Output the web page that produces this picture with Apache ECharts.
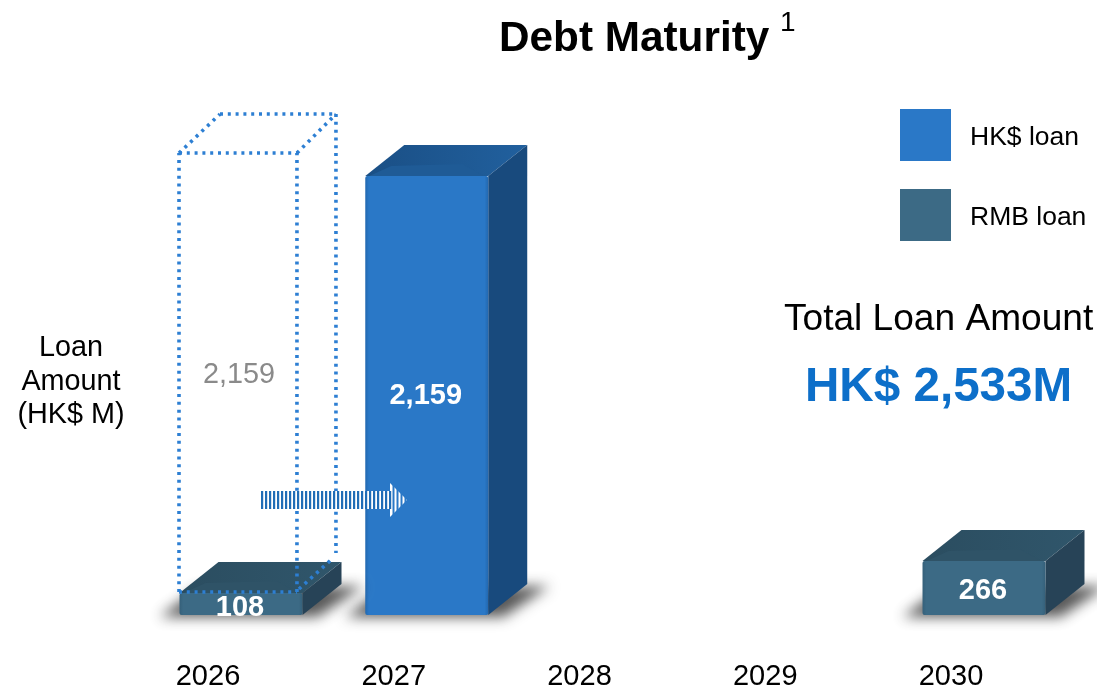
<!DOCTYPE html>
<html>
<head>
<meta charset="utf-8">
<style>html,body{margin:0;padding:0;background:#fff;overflow:hidden}#chart{width:1097px;height:687px}</style>
<script src="https://cdn.jsdelivr.net/npm/echarts@6/dist/echarts.min.js"></script>
</head>
<body>
<div id="chart"></div>
<script>
// Loan balances by maturity year, HK$ million
var years = ['2026', '2027', '2028', '2029', '2030'];
var hkLoan = [null, 2159, null, null, null];
var rmbLoan = [108, null, null, null, 266];
var extendedFrom = [2159, null, null, null, null];

var FONT = '"Liberation Sans", Arial, sans-serif';
var palette = {
  hk: { front: '#2a78c7', edge: '#2268b0', side: '#184a7d', topA: '#1a4f85', topB: '#21609e', topC: '#1f5b96' },
  rmb: { front: '#3c6a85', edge: '#35607a', side: '#274357', topA: '#2b4d60', topB: '#30566b', topC: '#2f5367' }
};

function rowsOf(values) {
  return values.map(function (v, i) { return [i, v]; }).filter(function (r) { return r[1] !== null; });
}

// Pseudo-3D block: soft ground shadow, top, side and front faces, then the value on the front
function blockRenderer(colors) {
  return function (params, api) {
    var i = api.value(0), value = api.value(1);
    var foot = api.coord([i, 0]);
    var head = api.coord([i, value]);
    var w = api.size([1, 0])[0] * 0.662;
    var L = foot[0] + 33 - w / 2, R = L + w, B = foot[1], T = head[1];
    var dx = 39, dy = 31;
    var away = 3000; // the caster sits off-canvas so only its blur lands on the page
    var grad = function (x, y, x2, y2, stops) {
      return { type: 'linear', x: x, y: y, x2: x2, y2: y2, colorStops: stops };
    };
    var caster = [[L - 20, B + 2], [L + 18, B - 26], [R + dx + 22, B - 29], [R + 15, B + 2]].map(function (p) {
      return [p[0] - away, p[1]];
    });
    var labelY = (T + B) / 2 + (B - T < 100 ? 3.5 : 0);
    return {
      type: 'group',
      children: [
        { type: 'polygon', silent: true,
          shape: { points: caster },
          style: { fill: '#000', shadowBlur: 13, shadowOffsetX: away, shadowColor: 'rgba(70,70,70,0.9)' } },
        { type: 'polygon',
          shape: { points: [[L, T], [L + dx, T - dy], [R + dx, T - dy], [R, T]] },
          style: { fill: grad(0, 0, 1, 0, [{ offset: 0, color: colors.topA }, { offset: 1, color: colors.topB }]) } },
        { type: 'polygon', silent: true,
          shape: { points: [[L + 4, T], [L + 26, T - 10], [R - 26, T - 12], [R - 4, T]] },
          style: { fill: colors.topC } },
        { type: 'polygon',
          shape: { points: [[R, T], [R + dx, T - dy], [R + dx, B - dy], [R, B]] },
          style: { fill: colors.side } },
        { type: 'rect',
          shape: { x: L, y: T, width: w, height: B - T, r: 2 },
          style: { fill: grad(0, 0, 1, 0, [
            { offset: 0, color: colors.edge }, { offset: 0.03, color: colors.front },
            { offset: 0.97, color: colors.front }, { offset: 1, color: colors.edge }]) } },
        { type: 'text',
          style: { x: L + w / 2 - 1, y: labelY, text: echarts.format.addCommas(value),
            fill: '#fff', font: 'bold 29px ' + FONT, align: 'center', verticalAlign: 'middle' } }
      ]
    };
  };
}

// Dotted outline of the tranche originally due in 2026, sitting on top of that year's RMB block
function outlineRenderer(params, api) {
  var i = api.value(0), value = api.value(1);
  var base = rmbLoan[i] || 0;
  var foot = api.coord([i, base]);
  var head = api.coord([i, base + value]);
  var w = api.size([1, 0])[0] * 0.635;
  var L = foot[0] - 29, R = L + w, B = foot[1] - 1, T = head[1] - 1;
  var dx = 39, dy = 39;
  var dotted = { fill: 'none', stroke: '#2d7fd3', lineWidth: 3.6, lineDash: [3, 4.8] };
  var edge = function (a, b) {
    return { type: 'line', shape: { x1: a[0], y1: a[1], x2: b[0], y2: b[1] }, style: dotted };
  };
  return {
    type: 'group',
    children: [
      edge([L, B], [L, T]),
      edge([L, T], [R, T]),
      edge([R, B], [R, T]),
      edge([L, B], [R, B]),
      edge([L, T], [L + dx + 2, T - dy]),
      edge([L + dx + 2, T - dy], [R + dx, T - dy]),
      edge([R, T], [R + dx, T - dy]),
      edge([R + dx, T - dy], [R + dx, B - dy]),
      edge([R + 2, B - 3], [R + dx - 4, B - dy + 6]),
      { type: 'text',
        style: { x: L + w / 2 + 1, y: (T + B) / 2 + 2, text: echarts.format.addCommas(value),
          fill: '#8a8a8a', font: '28.8px ' + FONT, align: 'center', verticalAlign: 'middle' } }
    ]
  };
}

// Striped arrow showing the tranche moving out by a year, plus the axis caption
function annotationElements() {
  var blue = '#1f6cb6', els = [];
  var x0 = 261, shaftEnd = 391, tip = 407, mid = 500, halfShaft = 9, halfHead = 17, period = 4;
  els.push({ type: 'rect', z: 100, shape: { x: x0, y: mid - halfShaft, width: shaftEnd - x0, height: halfShaft * 2 }, style: { fill: '#fff' } });
  els.push({ type: 'polygon', z: 100, shape: { points: [[shaftEnd - 1, mid - halfHead], [tip, mid], [shaftEnd - 1, mid + halfHead]] }, style: { fill: '#fff' } });
  for (var x = x0; x < shaftEnd - 1; x += period) {
    els.push({ type: 'rect', z: 101, shape: { x: x, y: mid - halfShaft, width: 2.2, height: halfShaft * 2 }, style: { fill: blue } });
  }
  for (var hx = shaftEnd + 1.5; hx < tip - 1; hx += period) {
    var h = halfHead * (tip - hx) / (tip - shaftEnd + 1);
    els.push({ type: 'rect', z: 101, shape: { x: hx, y: mid - h - 1, width: 2, height: 2 * h + 2 }, style: { fill: '#2a78c7' } });
  }
  els.push({ type: 'text', x: 71, y: 382,
    style: { text: 'Loan\nAmount\n(HK$ M)', fill: '#000', font: '28.8px ' + FONT, lineHeight: 33.5, align: 'center', verticalAlign: 'middle' } });
  return els;
}

var chart = echarts.init(document.getElementById('chart'), null, { renderer: 'canvas' });
chart.setOption({
  animation: false,
  backgroundColor: '#fff',
  title: [
    { text: 'Debt Maturity', left: 499, top: 18, textStyle: { fontFamily: FONT, fontWeight: 'bold', fontSize: 42.3, color: '#000' }, padding: 0 },
    { text: '1', left: 780, top: 9, textStyle: { fontFamily: FONT, fontWeight: 'normal', fontSize: 28, color: '#000' }, padding: 0 },
    { text: 'Total Loan Amount', left: 784, top: 301, textStyle: { fontFamily: FONT, fontWeight: 'normal', fontSize: 37.1, color: '#000' }, padding: 0 },
    { text: 'HK$ 2,533M', left: 805, top: 364, textStyle: { fontFamily: FONT, fontWeight: 'bold', fontSize: 47.6, color: '#0d6fc9' }, padding: 0 }
  ],
  legend: {
    orient: 'vertical', left: 900, top: 109, padding: 0,
    itemWidth: 51, itemHeight: 52, itemGap: 28, icon: 'rect', selectedMode: false,
    data: ['HK$ loan', 'RMB loan'],
    formatter: '{a|{name}}',
    textStyle: { rich: { a: { fontFamily: FONT, fontSize: 26.5, color: '#000', padding: [6, 0, 0, 14] } } }
  },
  grid: { left: 115.125, width: 928.75, top: 106.7, height: 508.3, outerBoundsMode: 'none' },
  xAxis: {
    type: 'category', data: years,
    axisLine: { show: false }, axisTick: { show: false },
    axisLabel: { margin: 47, fontFamily: FONT, fontSize: 29, color: '#000' }
  },
  yAxis: {
    type: 'value', min: 0, max: 2500,
    axisLine: { show: false }, axisTick: { show: false }, axisLabel: { show: false }, splitLine: { show: false }
  },
  series: [
    { type: 'custom', name: 'HK$ loan', z: 2, itemStyle: { color: palette.hk.front },
      data: rowsOf(hkLoan), renderItem: blockRenderer(palette.hk) },
    { type: 'custom', name: 'RMB loan', z: 2, itemStyle: { color: palette.rmb.front },
      data: rowsOf(rmbLoan), renderItem: blockRenderer(palette.rmb) },
    { type: 'custom', name: 'Extended', z: 3, data: rowsOf(extendedFrom), renderItem: outlineRenderer }
  ],
  graphic: { elements: annotationElements() }
});
</script>
</body>
</html>
